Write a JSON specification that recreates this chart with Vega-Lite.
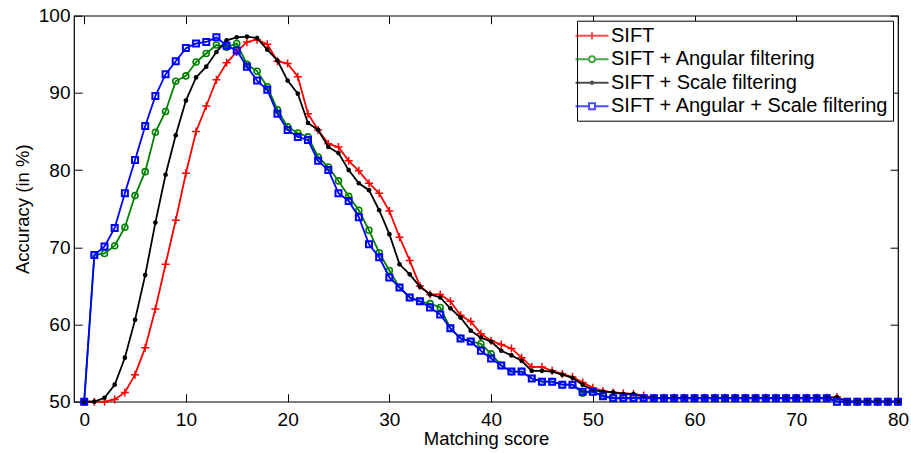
{
  "$schema": "https://vega.github.io/schema/vega-lite/v6.json",
  "width": 824,
  "height": 386,
  "autosize": {"type": "none"},
  "padding": {"left": 74, "top": 15.7, "right": 13, "bottom": 51.3},
  "background": "white",
  "config": {
    "font": "Liberation Sans",
    "view": {"stroke": "black", "strokeWidth": 1.2},
    "axis": {
      "grid": false, "domain": false, "tickColor": "black", "tickWidth": 1, "tickSize": -8,
      "labelColor": "black", "labelFontSize": 19, "labelFont": "Liberation Sans", "labelFlush": false, "labelOverlap": false,
      "titleColor": "black", "titleFontSize": 18.5, "titleFontWeight": "normal", "titleFont": "Liberation Sans"
    },
    "legend": {
      "orient": "top-right", "offset": 5, "title": null,
      "strokeColor": "black", "fillColor": "white", "padding": 4, "cornerRadius": 0,
      "labelFontSize": 20, "labelFont": "Liberation Sans", "labelColor": "black", "labelLimit": 400,
      "symbolSize": 400, "symbolStrokeWidth": 2, "symbolFillColor": "transparent", "rowPadding": 2.5, "labelOffset": 8
    }
  },
  "datasets": {
    "sift": [{"x":0,"y":50},{"x":1,"y":50},{"x":2,"y":50},{"x":3,"y":50.3},{"x":4,"y":51.2},{"x":5,"y":53.5},{"x":6,"y":57},{"x":7,"y":62},{"x":8,"y":67.8},{"x":9,"y":73.5},{"x":10,"y":79.6},{"x":11,"y":85},{"x":12,"y":88.3},{"x":13,"y":91.7},{"x":14,"y":93.9},{"x":15,"y":95.3},{"x":16,"y":96.6},{"x":17,"y":96.9},{"x":18,"y":96.3},{"x":19,"y":94.1},{"x":20,"y":93.8},{"x":21,"y":92.1},{"x":22,"y":87.3},{"x":23,"y":85.2},{"x":24,"y":83.4},{"x":25,"y":83},{"x":26,"y":81.2},{"x":27,"y":79.9},{"x":28,"y":78.3},{"x":29,"y":77},{"x":30,"y":74.7},{"x":31,"y":71.3},{"x":32,"y":68.3},{"x":33,"y":65},{"x":34,"y":63.9},{"x":35,"y":63.9},{"x":36,"y":63},{"x":37,"y":61.2},{"x":38,"y":60.4},{"x":39,"y":58.8},{"x":40,"y":57.9},{"x":41,"y":57.4},{"x":42,"y":56.9},{"x":43,"y":55.7},{"x":44,"y":54.5},{"x":45,"y":54.5},{"x":46,"y":54},{"x":47,"y":53.6},{"x":48,"y":53.2},{"x":49,"y":52.5},{"x":50,"y":51.8},{"x":51,"y":51.4},{"x":52,"y":51.2},{"x":53,"y":51.1},{"x":54,"y":51},{"x":55,"y":50.8},{"x":56,"y":50.5},{"x":57,"y":50.5},{"x":58,"y":50.5},{"x":59,"y":50.5},{"x":60,"y":50.5},{"x":61,"y":50.5},{"x":62,"y":50.5},{"x":63,"y":50.5},{"x":64,"y":50.5},{"x":65,"y":50.5},{"x":66,"y":50.5},{"x":67,"y":50.5},{"x":68,"y":50.5},{"x":69,"y":50.5},{"x":70,"y":50.5},{"x":71,"y":50.5},{"x":72,"y":50.5},{"x":73,"y":50.5},{"x":74,"y":50.6},{"x":75,"y":50},{"x":76,"y":50},{"x":77,"y":50},{"x":78,"y":50},{"x":79,"y":50},{"x":80,"y":50}],
    "ang": [{"x":0,"y":50},{"x":1,"y":69},{"x":2,"y":69.2},{"x":3,"y":70.2},{"x":4,"y":72.6},{"x":5,"y":76.7},{"x":6,"y":79.8},{"x":7,"y":84.9},{"x":8,"y":87.6},{"x":9,"y":91.5},{"x":10,"y":92.2},{"x":11,"y":94},{"x":12,"y":95.1},{"x":13,"y":96.2},{"x":14,"y":95.9},{"x":15,"y":96.4},{"x":16,"y":93.7},{"x":17,"y":92.8},{"x":18,"y":90.8},{"x":19,"y":87.8},{"x":20,"y":85.6},{"x":21,"y":84.8},{"x":22,"y":84.3},{"x":23,"y":81.7},{"x":24,"y":80.4},{"x":25,"y":78.6},{"x":26,"y":76.6},{"x":27,"y":74.8},{"x":28,"y":72.2},{"x":29,"y":69.3},{"x":30,"y":67},{"x":31,"y":64.8},{"x":32,"y":63.5},{"x":33,"y":63},{"x":34,"y":62.7},{"x":35,"y":62.2},{"x":36,"y":59.5},{"x":37,"y":58.2},{"x":38,"y":57.8},{"x":39,"y":57.5},{"x":40,"y":56.2},{"x":41,"y":54.7},{"x":42,"y":53.9},{"x":43,"y":53.9},{"x":44,"y":53},{"x":45,"y":52.6},{"x":46,"y":52.6},{"x":47,"y":52.2},{"x":48,"y":52.2},{"x":49,"y":51.1},{"x":50,"y":51.3},{"x":51,"y":50.8},{"x":52,"y":50.5},{"x":53,"y":50.5},{"x":54,"y":50.5},{"x":55,"y":50.5},{"x":56,"y":50.5},{"x":57,"y":50.5},{"x":58,"y":50.5},{"x":59,"y":50.5},{"x":60,"y":50.5},{"x":61,"y":50.5},{"x":62,"y":50.5},{"x":63,"y":50.5},{"x":64,"y":50.5},{"x":65,"y":50.5},{"x":66,"y":50.5},{"x":67,"y":50.5},{"x":68,"y":50.5},{"x":69,"y":50.5},{"x":70,"y":50.5},{"x":71,"y":50.5},{"x":72,"y":50.5},{"x":73,"y":50.5},{"x":74,"y":50},{"x":75,"y":50},{"x":76,"y":50},{"x":77,"y":50},{"x":78,"y":50},{"x":79,"y":50},{"x":80,"y":50}],
    "scl": [{"x":0,"y":50},{"x":1,"y":50},{"x":2,"y":50.5},{"x":3,"y":52.2},{"x":4,"y":55.7},{"x":5,"y":60.6},{"x":6,"y":66.4},{"x":7,"y":73.2},{"x":8,"y":79.4},{"x":9,"y":84.5},{"x":10,"y":89},{"x":11,"y":92},{"x":12,"y":93.4},{"x":13,"y":95.3},{"x":14,"y":96.8},{"x":15,"y":97.2},{"x":16,"y":97.3},{"x":17,"y":97.1},{"x":18,"y":95.6},{"x":19,"y":94.2},{"x":20,"y":91.6},{"x":21,"y":89.9},{"x":22,"y":86.1},{"x":23,"y":85.2},{"x":24,"y":83},{"x":25,"y":82.2},{"x":26,"y":80},{"x":27,"y":78.3},{"x":28,"y":77.4},{"x":29,"y":74.8},{"x":30,"y":71.7},{"x":31,"y":67.8},{"x":32,"y":66.5},{"x":33,"y":64.9},{"x":34,"y":63.9},{"x":35,"y":63.5},{"x":36,"y":62.1},{"x":37,"y":60.9},{"x":38,"y":59.2},{"x":39,"y":58.3},{"x":40,"y":57.8},{"x":41,"y":56.6},{"x":42,"y":56},{"x":43,"y":55.3},{"x":44,"y":54},{"x":45,"y":54},{"x":46,"y":53.9},{"x":47,"y":53.5},{"x":48,"y":53.1},{"x":49,"y":52.2},{"x":50,"y":51.5},{"x":51,"y":51.3},{"x":52,"y":51.2},{"x":53,"y":51},{"x":54,"y":51},{"x":55,"y":50.6},{"x":56,"y":50.5},{"x":57,"y":50.5},{"x":58,"y":50.5},{"x":59,"y":50.5},{"x":60,"y":50.5},{"x":61,"y":50.5},{"x":62,"y":50.5},{"x":63,"y":50.5},{"x":64,"y":50.5},{"x":65,"y":50.5},{"x":66,"y":50.5},{"x":67,"y":50.5},{"x":68,"y":50.5},{"x":69,"y":50.5},{"x":70,"y":50.5},{"x":71,"y":50.5},{"x":72,"y":50.5},{"x":73,"y":50.5},{"x":74,"y":50.6},{"x":75,"y":50},{"x":76,"y":50},{"x":77,"y":50},{"x":78,"y":50},{"x":79,"y":50},{"x":80,"y":50}],
    "both": [{"x":0,"y":50},{"x":1,"y":69},{"x":2,"y":70.1},{"x":3,"y":72.5},{"x":4,"y":77},{"x":5,"y":81.3},{"x":6,"y":85.7},{"x":7,"y":89.6},{"x":8,"y":92.4},{"x":9,"y":94.1},{"x":10,"y":95.8},{"x":11,"y":96.4},{"x":12,"y":96.6},{"x":13,"y":97.2},{"x":14,"y":96.1},{"x":15,"y":95.5},{"x":16,"y":93.4},{"x":17,"y":91.6},{"x":18,"y":90.4},{"x":19,"y":87.3},{"x":20,"y":85.2},{"x":21,"y":84.3},{"x":22,"y":83.9},{"x":23,"y":81.2},{"x":24,"y":80},{"x":25,"y":77},{"x":26,"y":76},{"x":27,"y":73.9},{"x":28,"y":70.4},{"x":29,"y":68.7},{"x":30,"y":66.1},{"x":31,"y":64.8},{"x":32,"y":63.5},{"x":33,"y":63},{"x":34,"y":62.2},{"x":35,"y":61.3},{"x":36,"y":59.5},{"x":37,"y":58.2},{"x":38,"y":57.8},{"x":39,"y":56.6},{"x":40,"y":55.6},{"x":41,"y":54.7},{"x":42,"y":53.9},{"x":43,"y":53.9},{"x":44,"y":53},{"x":45,"y":52.6},{"x":46,"y":52.6},{"x":47,"y":52.2},{"x":48,"y":52.2},{"x":49,"y":51.3},{"x":50,"y":51.3},{"x":51,"y":50.7},{"x":52,"y":50.45},{"x":53,"y":50.45},{"x":54,"y":50.45},{"x":55,"y":50.45},{"x":56,"y":50.45},{"x":57,"y":50.45},{"x":58,"y":50.45},{"x":59,"y":50.45},{"x":60,"y":50.45},{"x":61,"y":50.45},{"x":62,"y":50.45},{"x":63,"y":50.45},{"x":64,"y":50.45},{"x":65,"y":50.45},{"x":66,"y":50.45},{"x":67,"y":50.45},{"x":68,"y":50.45},{"x":69,"y":50.45},{"x":70,"y":50.45},{"x":71,"y":50.45},{"x":72,"y":50.45},{"x":73,"y":50.45},{"x":74,"y":50},{"x":75,"y":50},{"x":76,"y":50},{"x":77,"y":50},{"x":78,"y":50},{"x":79,"y":50},{"x":80,"y":50}]
  },
  "resolve": {"axis": {"x": "independent", "y": "independent"}},
  "layer": [
    {
      "data": {"name": "sift"},
      "transform": [{"filter": "datum.x < -5"}],
      "mark": {"type": "point", "filled": false, "strokeWidth": 2},
      "encoding": {
        "x": {"field": "x", "type": "quantitative", "scale": {"domain": [-1, 80], "nice": false, "zero": false},
              "axis": {"orient": "bottom", "values": [0,10,20,30,40,50,60,70,80], "labelPadding": 17, "title": "Matching score", "titlePadding": 0}},
        "y": {"field": "y", "type": "quantitative", "scale": {"domain": [50, 100], "nice": false, "zero": false},
              "axis": {"orient": "left", "values": [50,60,70,80,90,100], "labelPadding": 12, "title": "Accuracy (in %)", "titlePadding": 6}},
        "color": {"field": "s", "type": "nominal",
                  "scale": {"domain": ["SIFT", "SIFT + Angular filtering", "SIFT + Scale filtering", "SIFT + Angular + Scale filtering"],
                            "range": ["#ff0000", "#008000", "#000000", "#0000ff"]}},
        "shape": {"field": "s", "type": "nominal",
                  "scale": {"domain": ["SIFT", "SIFT + Angular filtering", "SIFT + Scale filtering", "SIFT + Angular + Scale filtering"],
                            "range": [
                              "M-2.6,0M-1.65,0H1.65M-0.35,0H0.35M0,-0.35V0.35",
                              "M-2.6,0M-1.65,0H-0.3M0.3,0H1.65M0.3,0A0.3,0.3 0 1 1 -0.3,0A0.3,0.3 0 1 1 0.3,0",
                              "M-2.6,0M-1.65,0H1.65M0.12,0A0.12,0.12 0 1 1 -0.12,0A0.12,0.12 0 1 1 0.12,0",
                              "M-2.6,0M-1.65,0H-0.3M0.3,0H1.65M-0.3,-0.3H0.3V0.3H-0.3Z"
                            ]}}
      }
    },
    {
      "data": {"name": "sift"},
      "mark": {"type": "line", "color": "#ff0000", "strokeWidth": 1.8,
               "point": {"shape": "M-1,0H1M0,-1V1", "size": 64, "filled": false, "color": "#ff0000", "strokeWidth": 1.5}},
      "encoding": {
        "x": {"field": "x", "type": "quantitative", "axis": {"orient": "top", "values": [0,10,20,30,40,50,60,70,80], "labels": false, "title": null}},
        "y": {"field": "y", "type": "quantitative", "axis": {"orient": "right", "values": [50,60,70,80,90,100], "labels": false, "title": null}}
      }
    },
    {
      "data": {"name": "ang"},
      "mark": {"type": "line", "color": "#008000", "strokeWidth": 1.8,
               "point": {"shape": "circle", "size": 36, "filled": false, "color": "#008000", "strokeWidth": 1.6}},
      "encoding": {
        "x": {"field": "x", "type": "quantitative", "axis": null},
        "y": {"field": "y", "type": "quantitative", "axis": null}
      }
    },
    {
      "data": {"name": "scl"},
      "mark": {"type": "line", "color": "#000000", "strokeWidth": 1.8,
               "point": {"shape": "circle", "size": 22, "filled": true, "color": "#000000"}},
      "encoding": {
        "x": {"field": "x", "type": "quantitative", "axis": null},
        "y": {"field": "y", "type": "quantitative", "axis": null}
      }
    },
    {
      "data": {"name": "both"},
      "mark": {"type": "line", "color": "#0000ff", "strokeWidth": 1.8,
               "point": {"shape": "square", "size": 36, "filled": false, "color": "#0000ff", "strokeWidth": 2}},
      "encoding": {
        "x": {"field": "x", "type": "quantitative", "axis": null},
        "y": {"field": "y", "type": "quantitative", "axis": null}
      }
    }
  ]
}
